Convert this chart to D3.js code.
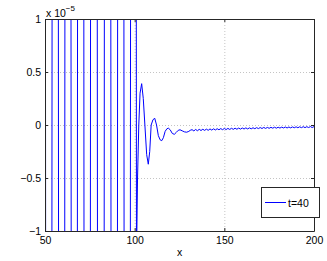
<!DOCTYPE html>
<html>
<head>
<meta charset="utf-8">
<script src="https://cdn.jsdelivr.net/npm/d3@7"></script>
<style>
  body { margin: 0; background: #fff; }
  svg { display: block; font-family: "Liberation Sans", Arial, sans-serif; }
</style>
</head>
<body>
<div id="chart"></div>
<script>
// values in units of 1e-5
// oscillating burst (50..100), amplitude far outside the axis range
const burstX = [48.5, 52.1, 55.7, 59.3, 62.8, 66.3, 69.9, 73.5, 77.2, 81.2, 84.9, 88.6, 92.3, 95.8, 99.5];
const burstY = [40, -40, 40, -40, 40, -40, 40, -40, 40, -40, 40, -40, 40, -40, 40];

// ringing after the front
const ringX = [101.0, 101.6, 102.3, 103.0, 103.9, 104.8, 105.7, 106.7, 107.6, 108.4, 109.2, 110.2,
  111.2, 112.2, 113.2, 114.2, 115.1, 116.0, 117.0, 118.0, 118.8, 119.8, 121.0, 122.1, 123.2,
  124.3, 125.3, 126.5, 127.8, 129.0, 130.2, 131.0];
const ringY = [-1.3, -0.5, 0.0, 0.3, 0.39, 0.25, 0.0, -0.28, -0.37, -0.25, 0.0, 0.05,
  0.063, 0.0, -0.1, -0.14, -0.148, -0.12, -0.06, -0.035, -0.03, -0.045, -0.08, -0.088, -0.07,
  -0.05, -0.045, -0.055, -0.065, -0.068, -0.06, -0.05];

// small ripple tail
const tailX = [132, 133, 134, 135, 136, 137, 138, 139, 140, 141, 142, 143, 144, 145, 146, 147, 148, 149,
  150, 151, 152, 153, 154, 155, 156, 157, 158, 159, 160, 161, 162, 163, 164, 165, 166, 167, 168, 169,
  170, 171, 172, 173, 174, 175, 176, 177, 178, 179, 180, 181, 182, 183, 184, 185, 186, 187, 188, 189,
  190, 191, 192, 193, 194, 195, 196, 197, 198, 199, 200];
const tailY = [-0.044, -0.056, -0.042, -0.054, -0.041, -0.052, -0.040, -0.051, -0.039, -0.050, -0.037, -0.048,
  -0.036, -0.047, -0.035, -0.045, -0.034, -0.044, -0.033, -0.043, -0.032, -0.042, -0.031, -0.041, -0.030,
  -0.040, -0.029, -0.039, -0.028, -0.038, -0.027, -0.037, -0.027, -0.036, -0.026, -0.035, -0.025, -0.034,
  -0.024, -0.033, -0.023, -0.032, -0.023, -0.031, -0.022, -0.030, -0.021, -0.030, -0.021, -0.029, -0.020,
  -0.028, -0.019, -0.028, -0.019, -0.027, -0.018, -0.026, -0.017, -0.026, -0.017, -0.025, -0.016, -0.025,
  -0.016, -0.024, -0.015, -0.024, -0.015];

const xTicks = [50, 100, 150, 200];
const yTicks = [-1, -0.5, 0, 0.5, 1];
const legendLabel = 't=40';

const xs = burstX.concat(ringX, tailX);
const ys = burstY.concat(ringY, tailY);
const data = xs.map((x, i) => ({ x: x, y: ys[i] }));

const width = 327, height = 261;
const margin = { top: 19, right: 13, bottom: 30, left: 45 };

const svg = d3.select('#chart').append('svg')
  .attr('width', width)
  .attr('height', height);

const x = d3.scaleLinear().domain([50, 200]).range([margin.left, width - margin.right]);
const y = d3.scaleLinear().domain([-1, 1]).range([height - margin.bottom, margin.top]);

const fmt = d => (d < 0 ? '\u2212' : '') + Math.abs(d);

// grid
const grid = svg.append('g').attr('stroke', '#c4c4c4').attr('stroke-dasharray', '1,2');
grid.selectAll('.gx').data(xTicks.slice(1, -1)).enter().append('line')
  .attr('x1', d => x(d) + 0.5).attr('x2', d => x(d) + 0.5)
  .attr('y1', y(1)).attr('y2', y(-1));
grid.selectAll('.gy').data(yTicks.slice(1, -1)).enter().append('line')
  .attr('y1', d => Math.round(y(d)) + 0.5).attr('y2', d => Math.round(y(d)) + 0.5)
  .attr('x1', x(50)).attr('x2', x(200));

// data line, clipped to plot area
svg.append('clipPath').attr('id', 'clip').append('rect')
  .attr('x', x(50)).attr('y', y(1))
  .attr('width', x(200) - x(50)).attr('height', y(-1) - y(1));

const line = d3.line().x(d => x(d.x)).y(d => y(d.y));
svg.append('path')
  .datum(data)
  .attr('clip-path', 'url(#clip)')
  .attr('fill', 'none')
  .attr('stroke', '#0000ff')
  .attr('stroke-width', 1)
  .attr('d', line);

// axes (inward ticks, box)
const axisColor = '#262626';
function styleAxis(g) {
  g.selectAll('path, line').attr('stroke', axisColor);
  g.selectAll('text').attr('fill', '#000').style('font-size', '10.5px');
  g.attr('font-family', null);
}
svg.append('g')
  .attr('transform', `translate(0,${height - margin.bottom})`)
  .call(d3.axisBottom(x).tickValues(xTicks).tickSize(-3).tickSizeOuter(0).tickPadding(6).tickFormat(fmt))
  .call(styleAxis);
svg.append('g')
  .attr('transform', `translate(${margin.left},0)`)
  .call(d3.axisLeft(y).tickValues(yTicks).tickSize(-3).tickSizeOuter(0).tickPadding(4).tickFormat(fmt))
  .call(styleAxis);
svg.append('g')
  .attr('transform', `translate(0,${margin.top})`)
  .call(d3.axisTop(x).tickValues(xTicks).tickSize(-3).tickSizeOuter(0).tickFormat(''))
  .call(styleAxis);
svg.append('g')
  .attr('transform', `translate(${width - margin.right},0)`)
  .call(d3.axisRight(y).tickValues(yTicks).tickSize(-3).tickSizeOuter(0).tickFormat(''))
  .call(styleAxis);

// exponent label
const ex = svg.append('text')
  .attr('x', margin.left + 1).attr('y', 17)
  .style('font-size', '10.5px');
ex.append('tspan').text('x 10');
ex.append('tspan').attr('dy', -6).style('font-size', '8px').text('\u22125');

// x axis label
svg.append('text')
  .attr('x', (x(50) + x(200)) / 2).attr('y', 256)
  .attr('text-anchor', 'middle')
  .style('font-size', '10.5px')
  .text('x');

// legend
const lg = svg.append('g').attr('transform', 'translate(261,187)');
lg.append('rect')
  .attr('x', 0.5).attr('y', 0.5).attr('width', 58).attr('height', 30)
  .attr('fill', '#fff').attr('stroke', axisColor);
lg.append('line')
  .attr('x1', 4).attr('x2', 25).attr('y1', 15.5).attr('y2', 15.5)
  .attr('stroke', '#0000ff');
lg.append('text')
  .attr('x', 27).attr('y', 19.5)
  .style('font-size', '10.5px')
  .text(legendLabel);
</script>
</body>
</html>
